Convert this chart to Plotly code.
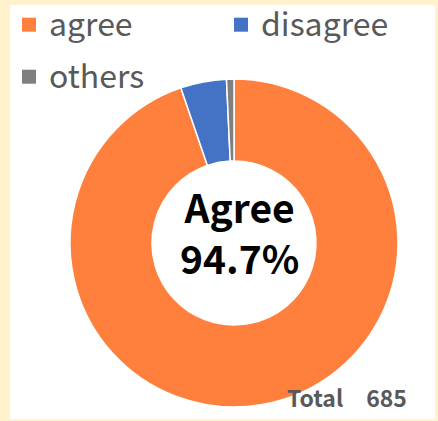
import plotly.graph_objects as go

labels = ["agree", "disagree", "others"]
values = [649, 31, 5]
colors = ["#FF7F3C", "#4472C4", "#7F7F7F"]
legend_rows = ["legend", "legend", "legend2"]
total_label = "Total"

W, H = 438, 421
total = sum(values)
pct = values[0] / total * 100
FONT = "Noto Sans CJK JP"

fig = go.Figure(go.Pie(
    labels=labels,
    values=values,
    hole=0.5,
    sort=False,
    direction="clockwise",
    rotation=0,
    textinfo="none",
    showlegend=False,
    marker=dict(colors=colors, line=dict(color="white", width=1.5)),
    domain=dict(x=[70 / W, 398 / W], y=[(H - 407) / H, (H - 79) / H]),
))

# legend entries (same labels / colours as the slices)
for lab, col, lg in zip(labels, colors, legend_rows):
    fig.add_trace(go.Scatter(
        x=[None], y=[None], mode="markers", name=f'<span style="font-size:32px">{lab}</span>',
        marker=dict(symbol="square", size=14, color=col), legend=lg,
        hoverinfo="skip",
    ))

legend_common = dict(
    orientation="h", xanchor="left",
    font=dict(size=28, color="#595959", family=FONT),
    entrywidth=167, entrywidthmode="pixels",
    bgcolor="rgba(0,0,0,0)",
)

fig.update_layout(
    width=W, height=H,
    margin=dict(l=0, r=0, t=0, b=0),
    paper_bgcolor="#FFF2CC",
    plot_bgcolor="rgba(0,0,0,0)",
    font=dict(family=FONT),
    xaxis=dict(visible=False),
    yaxis=dict(visible=False),
    legend=dict(x=9 / W, y=1, yanchor="top", **legend_common),
    legend2=dict(x=9 / W, y=(H - 77) / H, yanchor="middle", **legend_common),
    shapes=[dict(
        type="rect", xref="paper", yref="paper", layer="below",
        x0=10 / W, x1=435 / W, y0=2 / H, y1=(H - 5) / H,
        fillcolor="white", line=dict(width=0),
    )],
    annotations=[
        dict(
            text=f"<b>Agree<br>{pct:.1f}%</b>",
            x=239 / W, y=(H - 231) / H, xref="paper", yref="paper",
            showarrow=False, font=dict(size=39, color="black", family=FONT),
            xanchor="center", yanchor="middle",
        ),
        dict(
            text=f"<b>{total_label}\u3000{total}</b>",
            x=409 / W, y=(H - 397) / H, xref="paper", yref="paper",
            showarrow=False, font=dict(size=23, color="#595959", family=FONT),
            xanchor="right", yanchor="middle",
        ),
    ],
)

fig.write_html("out.html", config={"displayModeBar": False},
               post_script="document.body.style.margin='0';")
